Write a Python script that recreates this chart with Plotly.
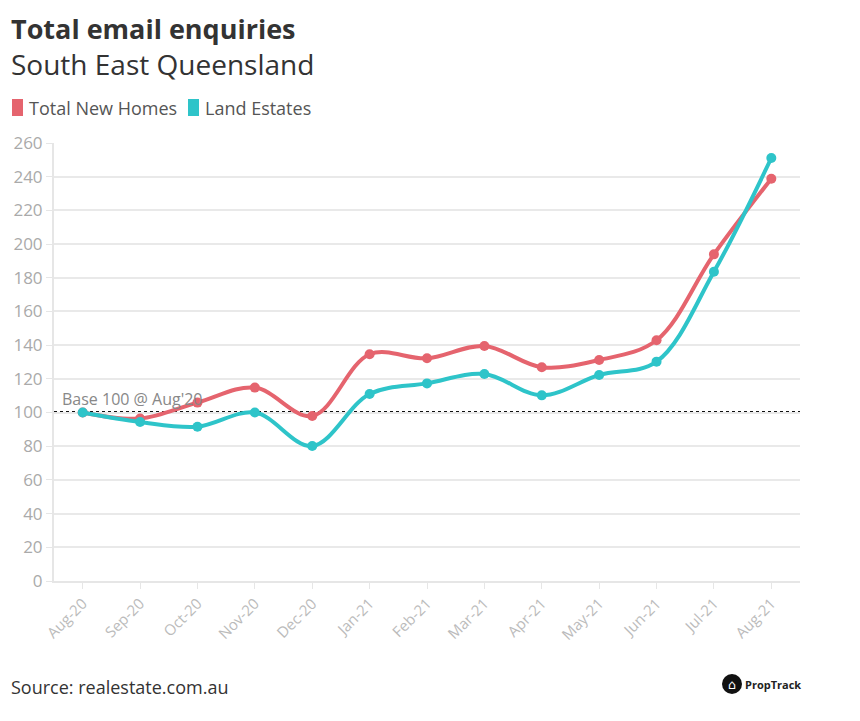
import plotly.graph_objects as go

months = ["Aug-20", "Sep-20", "Oct-20", "Nov-20", "Dec-20", "Jan-21", "Feb-21",
          "Mar-21", "Apr-21", "May-21", "Jun-21", "Jul-21", "Aug-21"]
new_homes = [100, 96.4, 105.9, 114.8, 97.9, 134.6, 132.2, 139.5, 126.9, 131.2, 142.9, 193.9, 238.8]
land_estates = [100, 94.4, 91.6, 100, 80.1, 111, 117.3, 122.9, 110.2, 122.3, 130.2, 183.6, 251.1]
base_value = 100
y_ticks = list(range(0, 261, 20))

RED = "#e5646e"
TEAL = "#2ec4c9"
FONT = "Open Sans"

# plot area in the reference: x 54..800, y 143..581 (746 x 438 px)
PW, PH = 746, 438


def px(x):
    return (x - 54) / PW


def py(y):
    return (581 - y) / PH


fig = go.Figure()

fig.add_trace(go.Scatter(
    x=months, y=new_homes, name="Total New Homes", mode="lines+markers",
    line=dict(color=RED, width=4, shape="spline", smoothing=1),
    marker=dict(color=RED, size=10), showlegend=False,
))
fig.add_trace(go.Scatter(
    x=months, y=land_estates, name="Land Estates", mode="lines+markers",
    line=dict(color=TEAL, width=4, shape="spline", smoothing=1),
    marker=dict(color=TEAL, size=10), showlegend=False,
))

# base line at 100, across the whole plot width
fig.add_shape(type="line", xref="paper", x0=0, x1=1, yref="y", y0=base_value, y1=base_value,
              line=dict(color="#111111", width=3, dash="dot"), layer="below")
fig.add_annotation(text="Base 100 @ Aug'20", xref="paper", x=px(60), yref="y", y=base_value,
                   yshift=1, xanchor="left", yanchor="bottom", showarrow=False,
                   font=dict(family=FONT, size=16, color="#888888"))

# titles
fig.add_annotation(text="<b>Total email enquiries</b>", xref="paper", yref="paper",
                   x=px(9), y=py(28), xanchor="left", yanchor="middle",
                   showarrow=False, font=dict(family=FONT, size=27, color="#333333"))
fig.add_annotation(text="South East Queensland", xref="paper", yref="paper",
                   x=px(9), y=py(64), xanchor="left", yanchor="middle",
                   showarrow=False, font=dict(family=FONT, size=28, color="#333333"))

# legend drawn by hand
for x0, col, label in [(12, RED, "Total New Homes"), (188, TEAL, "Land Estates")]:
    fig.add_shape(type="rect", xref="paper", yref="paper",
                  x0=px(x0), x1=px(x0 + 11), y0=py(116), y1=py(99),
                  fillcolor=col, line=dict(width=0))
    fig.add_annotation(text=label, xref="paper", yref="paper", x=px(x0 + 15), y=py(108),
                       xanchor="left", yanchor="middle", showarrow=False,
                       font=dict(family=FONT, size=18, color="#555555"))

# source and logo
fig.add_annotation(text="Source: realestate.com.au", xref="paper", yref="paper",
                   x=px(9), y=py(687), xanchor="left", yanchor="middle",
                   showarrow=False, font=dict(family=FONT, size=18, color="#333333"))
fig.add_shape(type="circle", xref="paper", yref="paper",
              x0=px(722), x1=px(742), y0=py(694), y1=py(674),
              fillcolor="#111111", line=dict(width=0))
fig.add_annotation(text="⌂", xref="paper", yref="paper", x=px(732), y=py(684),
                   xanchor="center", yanchor="middle", showarrow=False,
                   font=dict(family="DejaVu Sans", size=13, color="white"))
fig.add_annotation(text="<b>PropTrack</b>", xref="paper", yref="paper",
                   x=px(743), y=py(684), xanchor="left", yanchor="middle",
                   showarrow=False, font=dict(family=FONT, size=11, color="#222222"))

# the page adds an 8px body margin, so the margins are 8px smaller
fig.update_layout(
    width=860, height=721,
    margin=dict(l=46, r=860 - 46 - PW, t=135, b=721 - 135 - PH),
    paper_bgcolor="white", plot_bgcolor="white",
    font=dict(family=FONT),
    xaxis=dict(
        type="category", range=[-0.5, len(months) - 0.5], tickangle=-45,
        tickfont=dict(size=15, color="#bbbbbb"), showgrid=False, automargin=False,
        showline=True, linecolor="#e6e6e6", linewidth=2,
        ticks="outside", ticklen=6, tickcolor="#e6e6e6",
    ),
    yaxis=dict(
        range=[0, 260], tickvals=y_ticks, tickfont=dict(size=17, color="#aaaaaa"),
        showgrid=True, gridcolor="#e9e9e9", gridwidth=2, zeroline=False, automargin=False,
        showline=True, linecolor="#e6e6e6", linewidth=2,
        ticks="outside", ticklen=6, tickcolor="#e6e6e6",
    ),
)

fig.write_html("out.html")
